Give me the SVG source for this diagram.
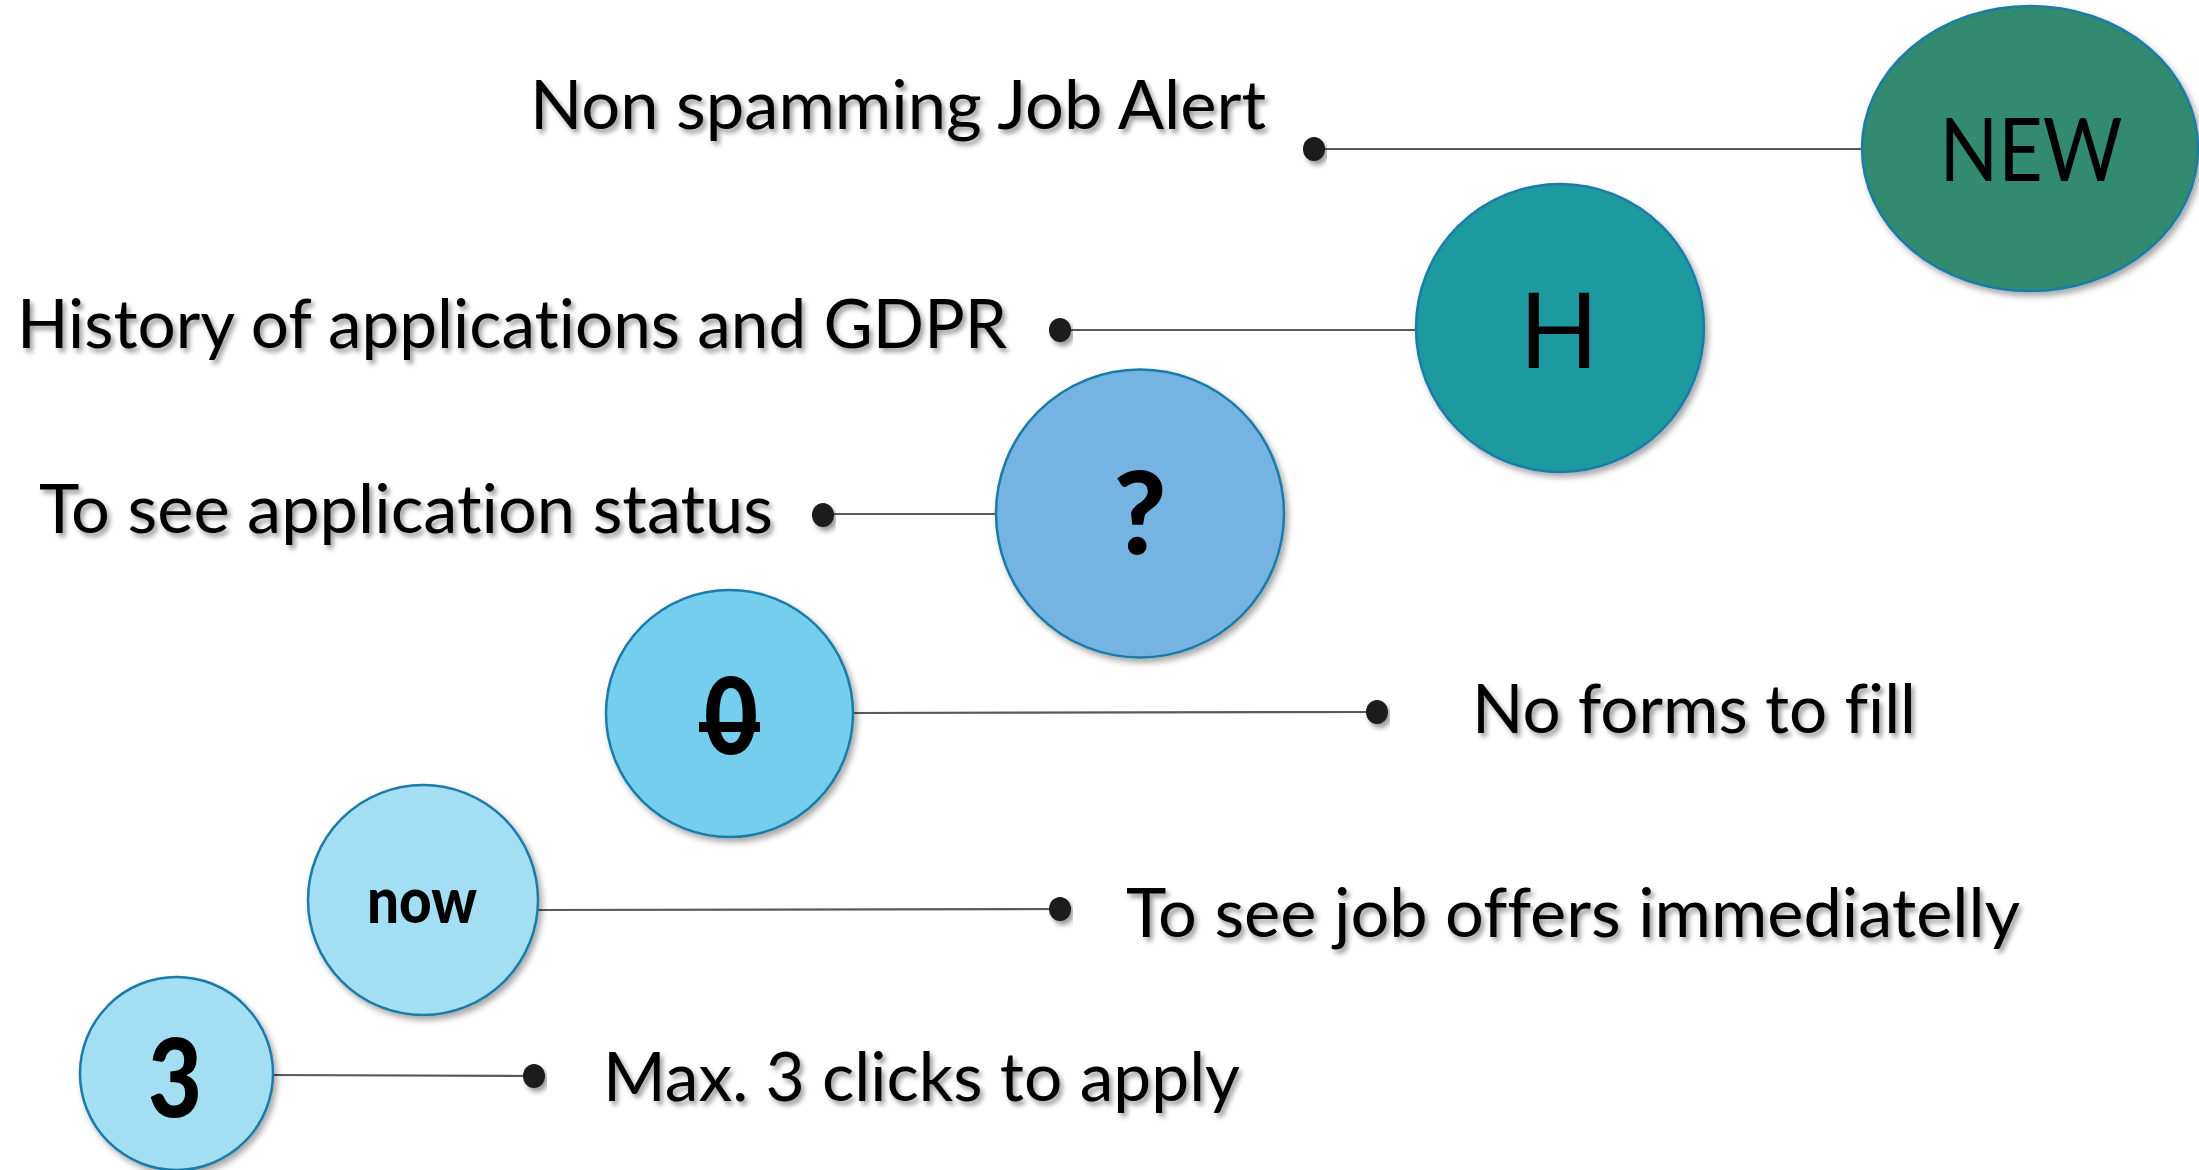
<svg xmlns="http://www.w3.org/2000/svg" width="2199" height="1170" viewBox="0 0 2199 1170">
<defs>
<filter id="sh" x="-10%" y="-10%" width="130%" height="130%">
<feDropShadow dx="3" dy="4" stdDeviation="3" flood-color="#000" flood-opacity="0.35"/>
</filter>
<filter id="tsh" x="-5%" y="-20%" width="110%" height="150%">
<feDropShadow dx="3" dy="4" stdDeviation="2.5" flood-color="#000" flood-opacity="0.4"/>
</filter>
</defs>
<style>
.node{stroke:#1B7BA8;stroke-width:2.5;filter:url(#sh)}
.lbl{font-family:Lato,"Open Sans",sans-serif;font-size:67px;fill:#000;filter:url(#tsh);font-variant-ligatures:none}
.nt{font-family:Lato,"Open Sans",sans-serif;fill:#000;text-anchor:middle;font-variant-ligatures:none}
.b{font-weight:900}
.ln{stroke:#595959;stroke-width:2.2;fill:none}
.dot{fill:#1a1a1a;filter:url(#tsh)}
</style>
<rect width="2199" height="1170" fill="#fff"/>
<g id="connectors">
<line class="ln" x1="1314" y1="149" x2="1862" y2="149"/>
<line class="ln" x1="1060" y1="330" x2="1416" y2="330"/>
<line class="ln" x1="823" y1="514" x2="996" y2="514"/>
<line class="ln" x1="853" y1="713" x2="1377" y2="712"/>
<line class="ln" x1="538" y1="910" x2="1060" y2="909"/>
<line class="ln" x1="273" y1="1075" x2="534" y2="1076"/>
<ellipse class="dot" cx="1314" cy="149" rx="11" ry="12"/>
<ellipse class="dot" cx="1060" cy="330" rx="11" ry="12"/>
<ellipse class="dot" cx="823" cy="515" rx="11" ry="12"/>
<ellipse class="dot" cx="1377" cy="712" rx="11" ry="12"/>
<ellipse class="dot" cx="1060" cy="909" rx="11" ry="12"/>
<ellipse class="dot" cx="534" cy="1076" rx="11" ry="12"/>
</g>
<g id="node-new">
<ellipse class="node" cx="2030" cy="148.5" rx="168" ry="142.5" fill="#318A71"/>
<text class="nt" x="2031" y="181" font-size="88" textLength="183" lengthAdjust="spacingAndGlyphs">NEW</text>
<text class="lbl" x="530" y="129" textLength="736" lengthAdjust="spacingAndGlyphs">Non spamming Job Alert</text>
</g>
<g id="node-h">
<circle class="node" cx="1560" cy="328" r="144" fill="#1F9AA0"/>
<text class="nt" x="1559" y="368" font-size="104">H</text>
<text class="lbl" x="17" y="348" textLength="990" lengthAdjust="spacingAndGlyphs">History of applications and GDPR</text>
</g>
<g id="node-status">
<circle class="node" cx="1140" cy="513.5" r="144" fill="#74B4E2"/>
<text class="nt b" x="1140" y="554" font-size="114">?</text>
<text class="lbl" x="39" y="533" textLength="734" lengthAdjust="spacingAndGlyphs">To see application status</text>
</g>
<g id="node-zero">
<circle class="node" cx="729.5" cy="713.5" r="123.5" fill="#76CEEE"/>
<text class="nt b" x="731" y="754" font-size="107" textLength="54" lengthAdjust="spacingAndGlyphs">0</text>
<rect x="699" y="722" width="61" height="10" fill="#000"/>
<text class="lbl" x="1472" y="733" textLength="444" lengthAdjust="spacingAndGlyphs">No forms to fill</text>
</g>
<g id="node-now">
<circle class="node" cx="423" cy="900" r="115" fill="#A4DEF3"/>
<text class="nt b" x="422" y="923" font-size="62" textLength="110" lengthAdjust="spacingAndGlyphs">now</text>
<text class="lbl" x="1126" y="937" textLength="894" lengthAdjust="spacingAndGlyphs">To see job offers immediatelly</text>
</g>
<g id="node-three">
<circle class="node" cx="176.5" cy="1073.5" r="96.5" fill="#A4DEF3"/>
<text class="nt b" x="175" y="1117" font-size="109" textLength="54" lengthAdjust="spacingAndGlyphs">3</text>
<text class="lbl" x="603" y="1101" textLength="637" lengthAdjust="spacingAndGlyphs">Max. 3 clicks to apply</text>
</g>
</svg>
